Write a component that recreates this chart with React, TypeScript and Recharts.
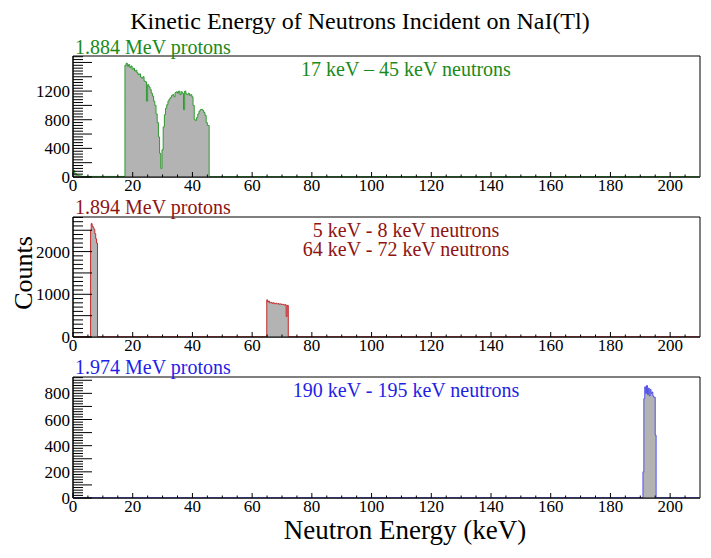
import React from "react";
import { AreaChart, Area, XAxis, YAxis, ReferenceArea } from "recharts";

// ---- panel 1 : 1.884 MeV protons ----
const p1Energy = [
  0, 0.6, 1.2, 2, 3, 17.4, 17.8, 18.2, 18.6, 19.0, 19.4, 19.8, 20.2, 20.6, 21.0,
  21.4, 21.8, 22.2, 22.6, 23.0, 23.4, 23.8, 24.2, 24.6, 25.0, 25.4, 25.8, 26.2,
  26.6, 27.0, 27.4, 27.8, 28.2, 28.6, 29.0, 29.4, 29.8, 30.2, 30.6, 31.0, 31.4,
  31.8, 32.2, 32.6, 33.0, 33.4, 33.8, 34.2, 34.6, 35.0, 35.4, 35.8, 36.2, 36.6,
  37.0, 37.4, 37.8, 38.2, 38.6, 39.0, 39.4, 39.8, 40.2, 40.6, 41.0, 41.4, 41.8,
  42.2, 42.6, 43.0, 43.4, 43.8, 44.2, 44.6, 45.0, 45.6, 210,
];
const p1Counts = [
  90, 45, 25, 15, 8, 1560, 1590, 1545, 1570, 1530, 1550, 1505, 1520, 1480, 1490,
  1455, 1430, 1440, 1395, 1380, 1400, 1340, 1330, 1060, 1290, 1260, 1220, 1170,
  1130, 1060, 1000, 880, 760, 560, 330, 120, 380, 700, 870, 960, 1010,
  1060, 1090, 1110, 1140, 1150, 1120, 1180, 1190, 1170, 1200, 1150, 1190, 1170,
  940, 1200, 1160, 1150, 1170, 1140, 1150, 1120, 1000, 800, 790, 830, 880,
  920, 940, 945, 930, 900, 860, 760, 720, 5, 5,
];

// ---- panel 2 : 1.894 MeV protons ----
const p2Energy = [
  0, 5.9, 6.1, 6.4, 6.7, 7.0, 7.3, 7.6, 7.9, 8.2, 64.9, 65.2, 65.5, 65.8, 66.2,
  66.6, 67.0, 67.4, 67.8, 68.2, 68.6, 69.0, 69.4, 69.8, 70.2, 70.6, 71.0, 71.4,
  71.7, 72.1, 210,
];
const p2Counts = [
  3, 2500, 2655, 2600, 2560, 2520, 2420, 2300, 2200, 3, 870, 820, 840, 800, 810,
  790, 800, 780, 790, 775, 780, 770, 775, 760, 765, 750, 755, 480,
  740, 3, 3,
];

// ---- panel 3 : 1.974 MeV protons ----
const p3Energy = [
  0, 190.9, 191.2, 191.5, 191.8, 192.1, 192.4, 192.7, 193.0, 193.3, 193.6, 193.9,
  194.2, 194.5, 195.0, 195.3, 210,
];
const p3Counts = [
  2, 200, 760, 850, 800, 860, 790, 840, 780, 830, 800, 810, 780, 770, 480, 2, 2,
];

const xTicks = [
  0, 5, 10, 15, 20, 25, 30, 35, 40, 45, 50, 55, 60, 65, 70, 75, 80, 85, 90, 95,
  100, 105, 110, 115, 120, 125, 130, 135, 140, 145, 150, 155, 160, 165, 170, 175,
  180, 185, 190, 195, 200, 205,
];

const FONT = "Liberation Serif";

function range(step: number, max: number) {
  const out: number[] = [];
  for (let v = 0; v <= max + 1e-6; v += step) out.push(Math.round(v));
  return out;
}

const XTick = (props: any) => {
  const { x, y, payload } = props;
  const major = payload.value % 20 === 0;
  return (
    <g>
      <line x1={x} x2={x} y1={y} y2={y - (major ? 5 : 2.5)} stroke="#000" />
      {major && (
        <text x={x} y={y + 14} textAnchor="middle" fontSize={17} fontFamily={FONT} fill="#000">
          {payload.value}
        </text>
      )}
    </g>
  );
};

const makeYTick = (majorStep: number, labelStep: number, labelMax: number) => (props: any) => {
  const { x, y, payload } = props;
  const v = payload.value;
  const major = v % majorStep === 0;
  return (
    <g>
      <line x1={x} x2={x + (major ? 19 : 10)} y1={y} y2={y} stroke="#000" />
      {v % labelStep === 0 && v <= labelMax && (
        <text x={x - 3} y={y + 6} textAnchor="end" fontSize={17} fontFamily={FONT} fill="#000">
          {v}
        </text>
      )}
    </g>
  );
};

interface PanelProps {
  top: number;
  height: number;
  energy: number[];
  counts: number[];
  yMax: number;
  minorStep: number;
  majorStep: number;
  labelStep: number;
  labelMax: number;
  stroke: string;
}

function Panel({ top, height, energy, counts, yMax, minorStep, majorStep, labelStep, labelMax, stroke }: PanelProps) {
  const data = energy.map((e, i) => ({ e, c: counts[i] }));
  return (
    <div style={{ position: "absolute", left: 0, top }}>
      <AreaChart width={711} height={height} data={data} margin={{ top: 17, right: 11, bottom: 0, left: 0 }}>
        <XAxis
          type="number"
          dataKey="e"
          domain={[0, 210]}
          ticks={xTicks}
          interval={0}
          tickSize={0}
          tickMargin={0}
          height={23}
          allowDataOverflow
          axisLine={{ stroke: "#000" }}
          tick={<XTick />}
        />
        <YAxis
          type="number"
          domain={[0, yMax]}
          ticks={range(minorStep, yMax)}
          interval={0}
          tickSize={0}
          tickMargin={0}
          width={73}
          allowDataOverflow
          axisLine={{ stroke: "#000" }}
          tick={makeYTick(majorStep, labelStep, labelMax)}
        />
        <ReferenceArea x1={0} x2={210} y1={0} y2={yMax} fill="none" stroke="#000" strokeWidth={1} />
        <Area
          type="stepAfter"
          dataKey="c"
          stroke={stroke}
          strokeWidth={1}
          fill="#b3b3b3"
          fillOpacity={1}
          dot={false}
          activeDot={false}
          isAnimationActive={false}
        />
      </AreaChart>
    </div>
  );
}

const label = (left: number, top: number, size: number, color: string, center = false) => ({
  position: "absolute" as const,
  left: center ? left - 300 : left,
  width: center ? 600 : undefined,
  textAlign: center ? ("center" as const) : undefined,
  top,
  fontSize: size,
  lineHeight: 0.8,
  color,
  fontFamily: FONT,
  whiteSpace: "nowrap" as const,
});

export default function App() {
  return (
    <div style={{ position: "absolute", left: 0, top: 0, width: 711, height: 558, background: "#fff", fontFamily: FONT }}>
      <Panel top={39} height={161} energy={p1Energy} counts={p1Counts} yMax={1690}
        minorStep={40} majorStep={200} labelStep={400} labelMax={1200} stroke="#2e9a2e" />
      <Panel top={200} height={160} energy={p2Energy} counts={p2Counts} yMax={2810}
        minorStep={100} majorStep={500} labelStep={1000} labelMax={2000} stroke="#c42828" />
      <Panel top={360} height={161} energy={p3Energy} counts={p3Counts} yMax={925}
        minorStep={20} majorStep={100} labelStep={200} labelMax={800} stroke="#5050e8" />
      <div style={label(360, 12, 24, "#000", true)}>Kinetic Energy of Neutrons Incident on NaI(Tl)</div>
      <div style={label(75, 39, 20, "#1a8a1a")}>1.884 MeV protons</div>
      <div style={label(406, 61, 20, "#1a8a1a", true)}>17 keV – 45 keV neutrons</div>
      <div style={label(75, 199, 20, "#8e1414")}>1.894 MeV protons</div>
      <div style={{ ...label(406, 221, 20, "#8e1414", true), lineHeight: "19px" }}>
        5 keV - 8 keV neutrons
        <br />
        64 keV - 72 keV neutrons
      </div>
      <div style={label(75, 359, 20, "#1f1fe6")}>1.974 MeV protons</div>
      <div style={label(406, 382, 20, "#1f1fe6", true)}>190 keV - 195 keV neutrons</div>
      <div style={label(405, 520, 27, "#000", true)}>Neutron Energy (keV)</div>
      <svg width={60} height={558} style={{ position: "absolute", left: 0, top: 0, pointerEvents: "none" }}>
        <text x={0} y={0} textAnchor="middle" fontSize={26} fill="#000" fontFamily={FONT} transform="translate(32,273) rotate(-90)">
          Counts
        </text>
      </svg>
    </div>
  );
}
